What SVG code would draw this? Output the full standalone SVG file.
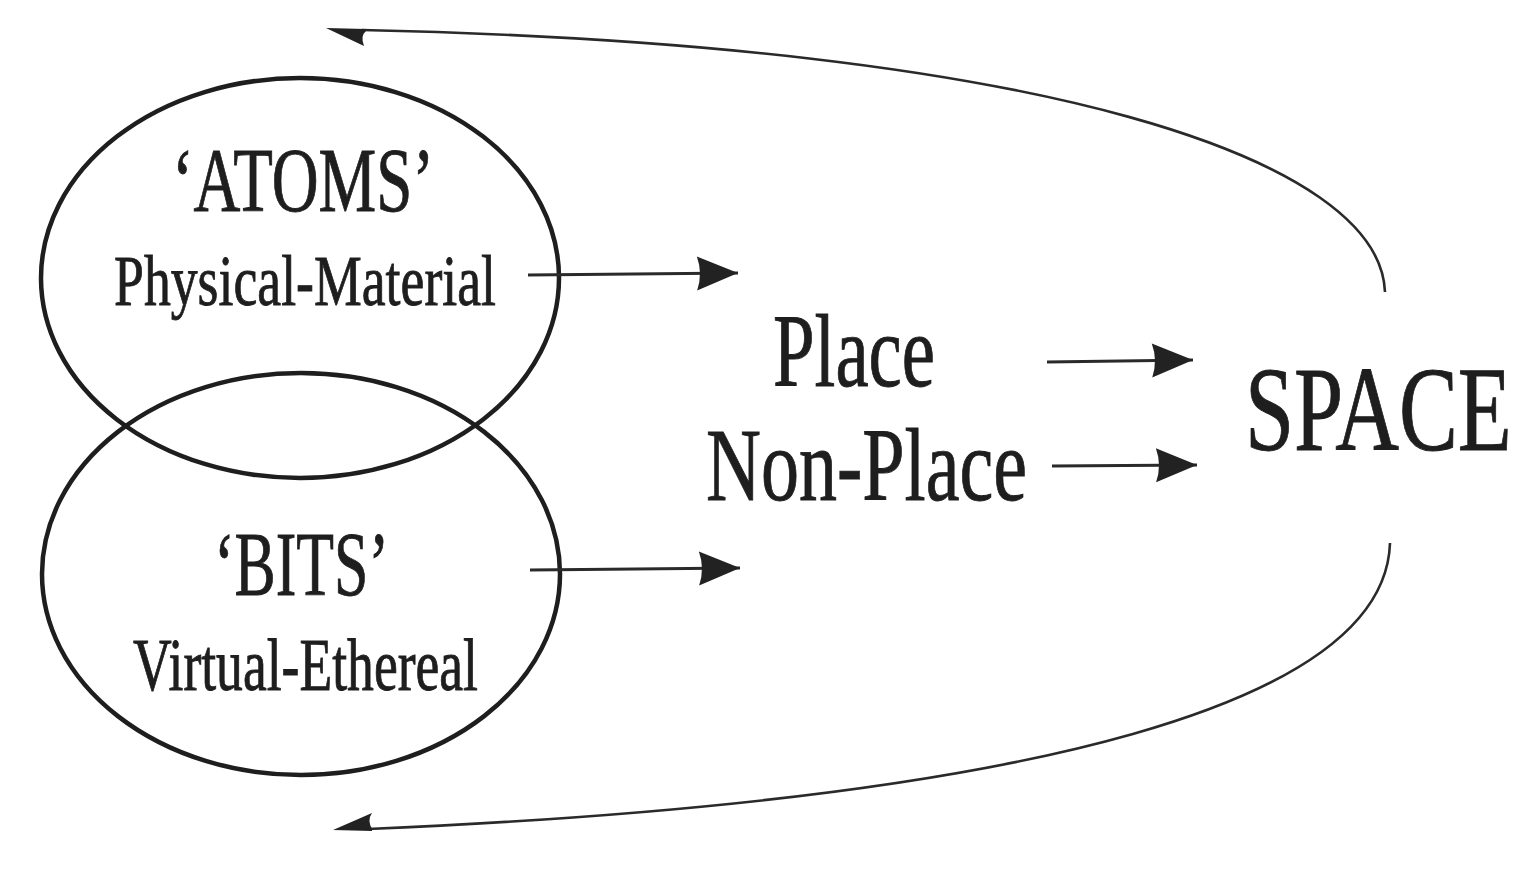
<svg xmlns="http://www.w3.org/2000/svg" width="1520" height="871" viewBox="0 0 1520 871">
<style>
.t{font-family:"Liberation Serif","Times New Roman",serif;fill:#1e1e1e;stroke:#1e1e1e;stroke-width:0.9}
.ell{fill:none;stroke:#1e1e1e;stroke-width:4.5}
.ln{fill:none;stroke:#2a2a2a;stroke-width:3}
.cv{fill:none;stroke:#2a2a2a;stroke-width:2.6}
.hd{fill:#222}
</style>
<defs>
<marker id="ah" markerUnits="userSpaceOnUse" markerWidth="44" markerHeight="38" viewBox="-42 -19 44 38" refX="0" refY="0" orient="auto">
<path class="hd" d="M0,0 L-41,-17 Q-35,0 -41,17 Z"/>
</marker>
</defs>
<rect width="1520" height="871" fill="#fff"/>
<g id="atoms">
<ellipse class="ell" cx="300" cy="278" rx="259" ry="200"/>
<text class="t" x="172" y="211" font-size="92" textLength="262" lengthAdjust="spacingAndGlyphs">‘ATOMS’</text>
<text class="t" x="114" y="305" font-size="72" textLength="382" lengthAdjust="spacingAndGlyphs">Physical-Material</text>
</g>
<g id="bits">
<ellipse class="ell" cx="301" cy="574" rx="259" ry="201"/>
<text class="t" x="214" y="595" font-size="91" textLength="175" lengthAdjust="spacingAndGlyphs">‘BITS’</text>
<text class="t" x="133" y="690" font-size="73" textLength="345" lengthAdjust="spacingAndGlyphs">Virtual-Ethereal</text>
</g>
<g id="place">
<text class="t" x="773" y="386" font-size="104" textLength="162" lengthAdjust="spacingAndGlyphs">Place</text>
<text class="t" x="706" y="500" font-size="104" textLength="321" lengthAdjust="spacingAndGlyphs">Non-Place</text>
</g>
<g id="space">
<text class="t" transform="translate(1245,450) scale(0.73,1)" x="0" y="0" font-size="121">SPACE</text>
</g>
<g id="connectors">
<line class="ln" x1="528" y1="275" x2="738" y2="273" marker-end="url(#ah)"/>
<line class="ln" x1="530" y1="570" x2="740" y2="568" marker-end="url(#ah)"/>
<line class="ln" x1="1047" y1="362" x2="1193" y2="360" marker-end="url(#ah)"/>
<line class="ln" x1="1052" y1="466" x2="1197" y2="465" marker-end="url(#ah)"/>
<path class="cv" d="M1385,292 C1380,160 1050,45 362,30"/>
<path class="hd" d="M326,28 L366,29 L366,31 Q360,36 364,46 Z"/>
<path class="cv" d="M1390,543 C1385,700 1050,800 368,829"/>
<path class="hd" d="M333,830 L372,813 Q367,820 372,829 L372,831 Z"/>
</g>
</svg>
